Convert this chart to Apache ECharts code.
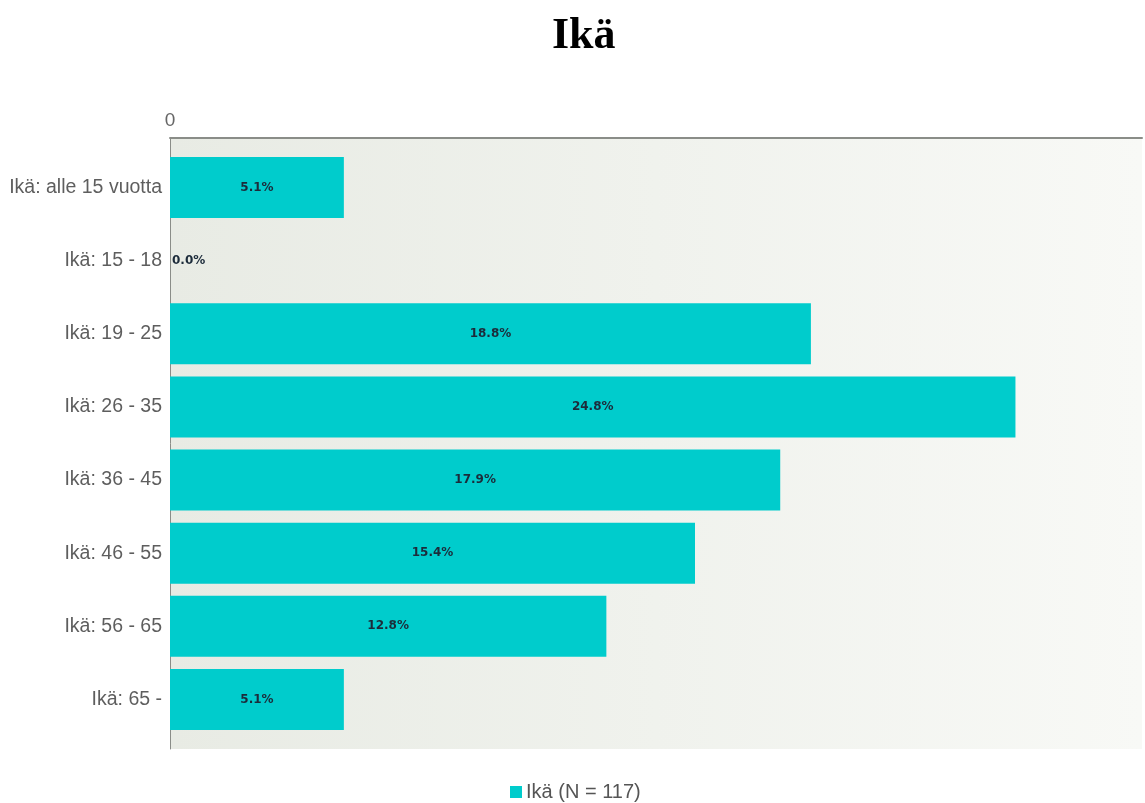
<!DOCTYPE html>
<html>
<head>
<meta charset="utf-8">
<title>Ikä</title>
<script src="https://cdn.jsdelivr.net/npm/echarts@6/dist/echarts.min.js"></script>
<style>
  html, body { margin: 0; padding: 0; background: #ffffff; }
  #chart { width: 1145px; height: 803px; }
</style>
</head>
<body>
<div id="chart"></div>
<script>
// Age groups of respondents and their share (%)
const categories = [
  'Ikä: alle 15 vuotta',
  'Ikä: 15 - 18',
  'Ikä: 19 - 25',
  'Ikä: 26 - 35',
  'Ikä: 36 - 45',
  'Ikä: 46 - 55',
  'Ikä: 56 - 65',
  'Ikä: 65 -'
];
const shares = [5.1, 0.0, 18.8, 24.8, 17.9, 15.4, 12.8, 5.1];
const seriesName = 'Ikä (N = 117)';
const xTickLabels = ['0'];
const xMax = 28.6;

const chart = echarts.init(document.getElementById('chart'), null, { renderer: 'canvas' });

const barData = shares.map(v => ({
  value: v,
  label: v === 0
    ? { position: 'right', distance: 2 }
    : { position: 'inside' }
}));

chart.setOption({
  animation: false,
  backgroundColor: '#ffffff',
  title: {
    text: 'Ikä',
    left: 547,
    top: 10,
    textStyle: {
      fontFamily: 'Liberation Serif',
      fontWeight: 'bold',
      fontSize: 44,
      color: '#000000'
    }
  },
  legend: {
    top: 777,
    left: 505,
    icon: 'rect',
    itemWidth: 12,
    itemHeight: 12,
    textStyle: {
      fontFamily: 'Liberation Sans',
      fontSize: 20,
      color: '#555555',
      padding: [0, 0, 0, -1]
    },
    data: [seriesName]
  },
  grid: [
    {
      // frame with shaded background and axis lines
      left: 170, right: 0, top: 138, bottom: 54,
      show: true,
      borderWidth: 0,
      backgroundColor: {
        type: 'linear', x: 0, y: 0, x2: 1, y2: 0,
        colorStops: [
          { offset: 0, color: '#e8ebe4' },
          { offset: 1, color: '#f8f9f6' }
        ]
      }
    },
    {
      // bars
      left: 170, right: 0, top: 151, bottom: 67
    }
  ],
  xAxis: [
    {
      gridIndex: 0,
      type: 'value',
      position: 'top',
      min: 0,
      max: xMax,
      interval: xMax,
      axisLine: { show: true, onZero: false, lineStyle: { color: '#8a8d88', width: 2 } },
      axisTick: { show: false },
      splitLine: { show: false },
      axisLabel: {
        margin: 8,
        fontFamily: 'Liberation Sans',
        fontSize: 19,
        color: '#666666',
        formatter: v => (v === 0 ? xTickLabels[0] : '')
      }
    },
    {
      gridIndex: 1,
      type: 'value',
      min: 0,
      max: xMax,
      show: false
    }
  ],
  yAxis: [
    {
      gridIndex: 0,
      type: 'value',
      axisLine: { show: true, onZero: false, lineStyle: { color: '#8a8d88', width: 1 } },
      axisTick: { show: false },
      axisLabel: { show: false },
      splitLine: { show: false }
    },
    {
      gridIndex: 1,
      type: 'category',
      inverse: true,
      data: categories,
      axisLine: { show: false },
      axisTick: { show: false },
      axisLabel: {
        margin: 8,
        fontFamily: 'Liberation Sans',
        fontSize: 19.5,
        color: '#5e5e5e'
      }
    }
  ],
  series: [
    {
      name: seriesName,
      type: 'bar',
      xAxisIndex: 1,
      yAxisIndex: 1,
      data: barData,
      barWidth: 61,
      itemStyle: { color: '#00cccc' },
      label: {
        show: true,
        fontFamily: 'DejaVu Sans',
        fontWeight: 'bold',
        fontSize: 12,
        color: '#1c2b3a',
        formatter: p => p.value.toFixed(1) + '%'
      }
    }
  ]
});
</script>
</body>
</html>
